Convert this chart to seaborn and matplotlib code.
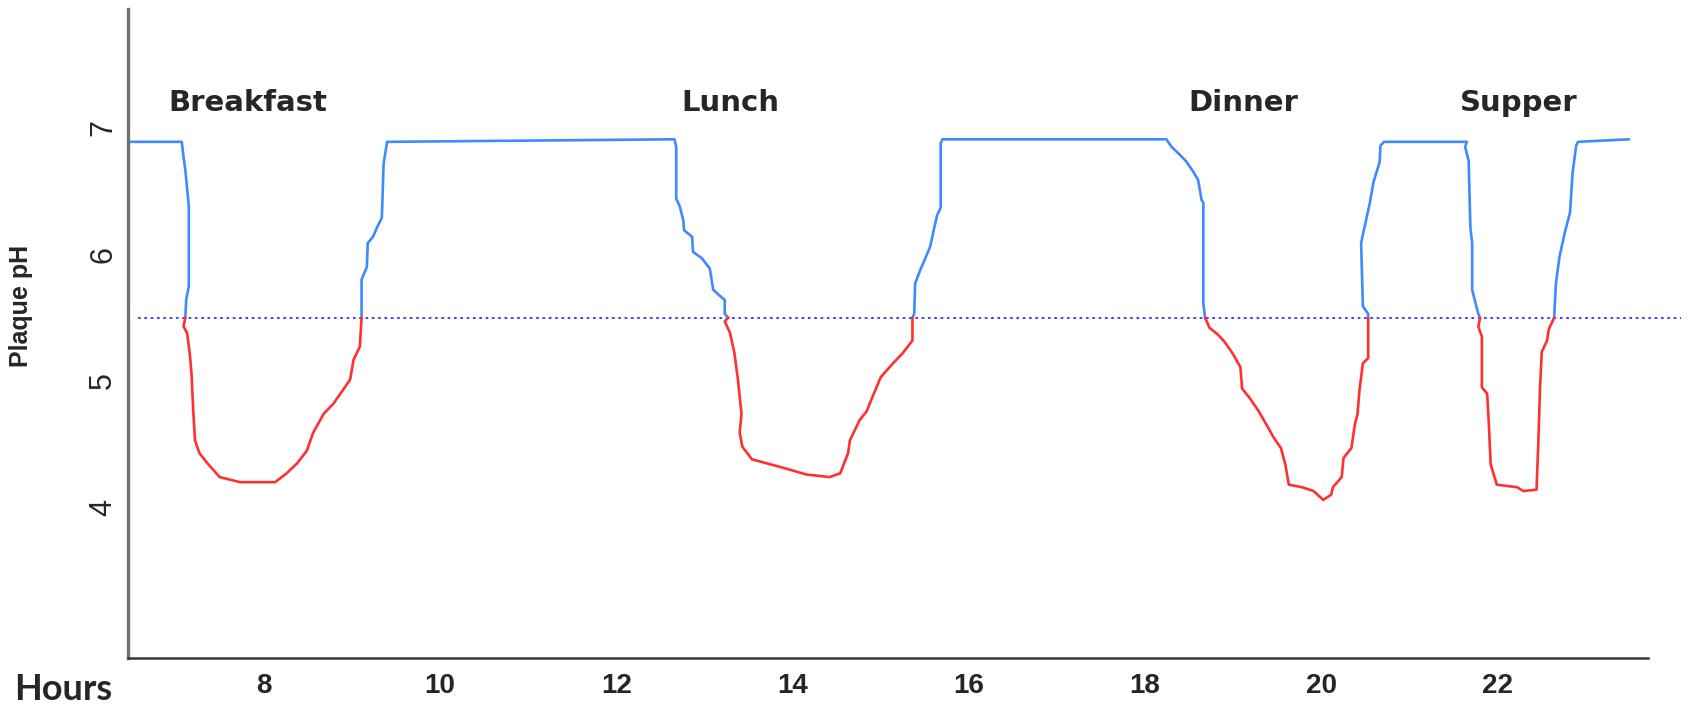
import matplotlib
matplotlib.use('Agg')
import matplotlib.pyplot as plt
import seaborn as sns
import pandas as pd

# plaque pH trace (hours of the day, pH)
hours = [6.46, 7.07,
         7.09, 7.11, 7.15, 7.15, 7.12, 7.11,
         7.09, 7.13, 7.16, 7.18, 7.20, 7.22, 7.27, 7.36, 7.50, 7.73, 8.13,
         8.26, 8.38, 8.49, 8.56, 8.68, 8.79, 8.90, 8.98, 9.02, 9.09, 9.11,
         9.11, 9.17, 9.18, 9.24, 9.29, 9.34, 9.36, 9.40,
         12.66,
         12.68, 12.68, 12.72, 12.76, 12.77, 12.86, 12.87, 12.97, 13.06, 13.10,
         13.18, 13.23, 13.23, 13.27,
         13.23, 13.29, 13.34, 13.38, 13.42, 13.40, 13.43, 13.54, 13.86, 14.16,
         14.42, 14.54, 14.63, 14.65, 14.76, 14.84, 14.91, 15.00, 15.14, 15.25,
         15.36, 15.36,
         15.38, 15.39, 15.45, 15.50, 15.56, 15.61, 15.64, 15.68, 15.68, 15.70,
         18.24,
         18.30, 18.39, 18.46, 18.54, 18.60, 18.64, 18.66, 18.66, 18.68,
         18.73, 18.82, 18.90, 18.99, 19.08, 19.10, 19.18, 19.28, 19.38, 19.46,
         19.54, 19.59, 19.63, 19.78, 19.91, 20.02, 20.11, 20.13, 20.23, 20.25,
         20.34, 20.38, 20.41, 20.43, 20.47, 20.53, 20.53,
         20.53, 20.47, 20.45, 20.49, 20.55, 20.59, 20.66, 20.67, 20.71,
         21.65,
         21.63, 21.67, 21.69, 21.71, 21.71, 21.75, 21.78, 21.80,
         21.78, 21.82, 21.82, 21.88, 21.90, 21.92, 21.99, 22.22, 22.29, 22.44,
         22.46, 22.48, 22.50, 22.56, 22.58, 22.64,
         22.66, 22.70, 22.76, 22.82, 22.85, 22.89, 22.91, 23.49]
ph = [6.89, 6.89,
      6.77, 6.67, 6.38, 5.75, 5.64, 5.50,
      5.43, 5.38, 5.22, 5.06, 4.77, 4.53, 4.43, 4.35, 4.24, 4.20, 4.20,
      4.27, 4.35, 4.45, 4.59, 4.74, 4.82, 4.93, 5.01, 5.17, 5.27, 5.50,
      5.80, 5.90, 6.09, 6.14, 6.22, 6.29, 6.72, 6.89,
      6.91,
      6.85, 6.44, 6.38, 6.27, 6.19, 6.14, 6.02, 5.97, 5.89, 5.72,
      5.67, 5.64, 5.53, 5.50,
      5.47, 5.38, 5.22, 5.01, 4.74, 4.59, 4.48, 4.38, 4.32, 4.26,
      4.24, 4.27, 4.43, 4.53, 4.69, 4.76, 4.88, 5.03, 5.14, 5.22,
      5.32, 5.50,
      5.53, 5.77, 5.88, 5.96, 6.06, 6.22, 6.31, 6.37, 6.88, 6.91,
      6.91,
      6.85, 6.79, 6.74, 6.66, 6.59, 6.43, 6.41, 5.61, 5.50,
      5.42, 5.37, 5.31, 5.22, 5.11, 4.94, 4.87, 4.77, 4.65, 4.55,
      4.47, 4.34, 4.18, 4.16, 4.13, 4.06, 4.10, 4.16, 4.24, 4.39,
      4.47, 4.66, 4.74, 4.92, 5.14, 5.18, 5.50,
      5.53, 5.59, 6.09, 6.22, 6.41, 6.57, 6.73, 6.86, 6.89,
      6.89,
      6.85, 6.74, 6.21, 6.09, 5.72, 5.61, 5.53, 5.50,
      5.43, 5.35, 4.95, 4.90, 4.65, 4.34, 4.18, 4.16, 4.13, 4.14,
      4.50, 4.95, 5.23, 5.32, 5.41, 5.50,
      5.77, 5.98, 6.17, 6.33, 6.65, 6.86, 6.89, 6.91]

meals = ['Breakfast', 'Lunch', 'Dinner', 'Supper']
meal_hours = [7.82, 13.29, 19.11, 22.24]
meal_ph = 7.13
x_ticks = [8, 10, 12, 14, 16, 18, 20, 22]
y_ticks = [4, 5, 6, 7]
critical_ph = 5.5

# cut the trace into runs above / below the critical pH
rows = []
seg = 0
prev = None
for i in range(len(hours) - 1):
    zone = 'below' if (ph[i] + ph[i + 1]) / 2 < critical_ph else 'above'
    if zone != prev:
        seg += 1
        rows.append((seg, zone, hours[i], ph[i]))
        prev = zone
    rows.append((seg, zone, hours[i + 1], ph[i + 1]))
df = pd.DataFrame(rows, columns=['seg', 'zone', 'hour', 'ph'])

sns.set_style('white')
plt.rcParams['font.family'] = ['DejaVu Sans']

fig = plt.figure(figsize=(16.89, 7.04), dpi=100)
ax = fig.add_axes([128 / 1689, 46 / 704, 1 - 128 / 1689, 649 / 704])

ax.plot([6.57, 24.08], [critical_ph, critical_ph], color='#3434ff',
        lw=1.3, ls=(0, (1.5, 2.0)), zorder=1)
sns.lineplot(data=df, x='hour', y='ph', units='seg', hue='zone',
             estimator=None, sort=False, legend=False, lw=1.9,
             palette={'above': '#3d8bff', 'below': '#ff3030'}, ax=ax, zorder=2)

ax.set_xlim(6.46, 24.17)
ax.set_ylim(2.81, 7.94)
ax.set_xlabel('')
ax.set_ylabel('')

for s in ['top', 'right']:
    ax.spines[s].set_visible(False)
ax.spines['left'].set_color('#707070')
ax.spines['left'].set_linewidth(2.4)
ax.spines['bottom'].set_color('#3a3a3a')
ax.spines['bottom'].set_linewidth(1.8)
ax.spines['bottom'].set_bounds(6.46, 23.70)

ax.set_xticks(x_ticks)
ax.set_xticklabels([str(t) for t in x_ticks], fontsize=20, fontweight='bold',
                   family=['Liberation Sans', 'DejaVu Sans'])
ax.set_yticks(y_ticks)
ax.set_yticklabels([str(t) for t in y_ticks], fontsize=22, rotation=90,
                   va='center', family=['Liberation Sans Narrow', 'Liberation Sans', 'DejaVu Sans'])
ax.tick_params(axis='x', length=0, pad=11)
ax.tick_params(axis='y', length=0, pad=7)

for name, h in zip(meals, meal_hours):
    ax.text(h, meal_ph, name, ha='center', va='baseline', fontsize=21,
            fontweight='bold', family=['DejaVu Sans'])

fig.text(63 / 1689, 4 / 704, 'Hours', ha='center', va='baseline', fontsize=26,
         fontweight='bold', family=['Lato', 'DejaVu Sans'])
fig.text(21 / 1689, (704 - 306) / 704, 'Plaque pH', rotation=90, ha='center',
         va='center', fontsize=18, fontweight='bold',
         family=['Liberation Sans Narrow', 'Liberation Sans', 'DejaVu Sans'])

fig.savefig('out.png', dpi=100)
